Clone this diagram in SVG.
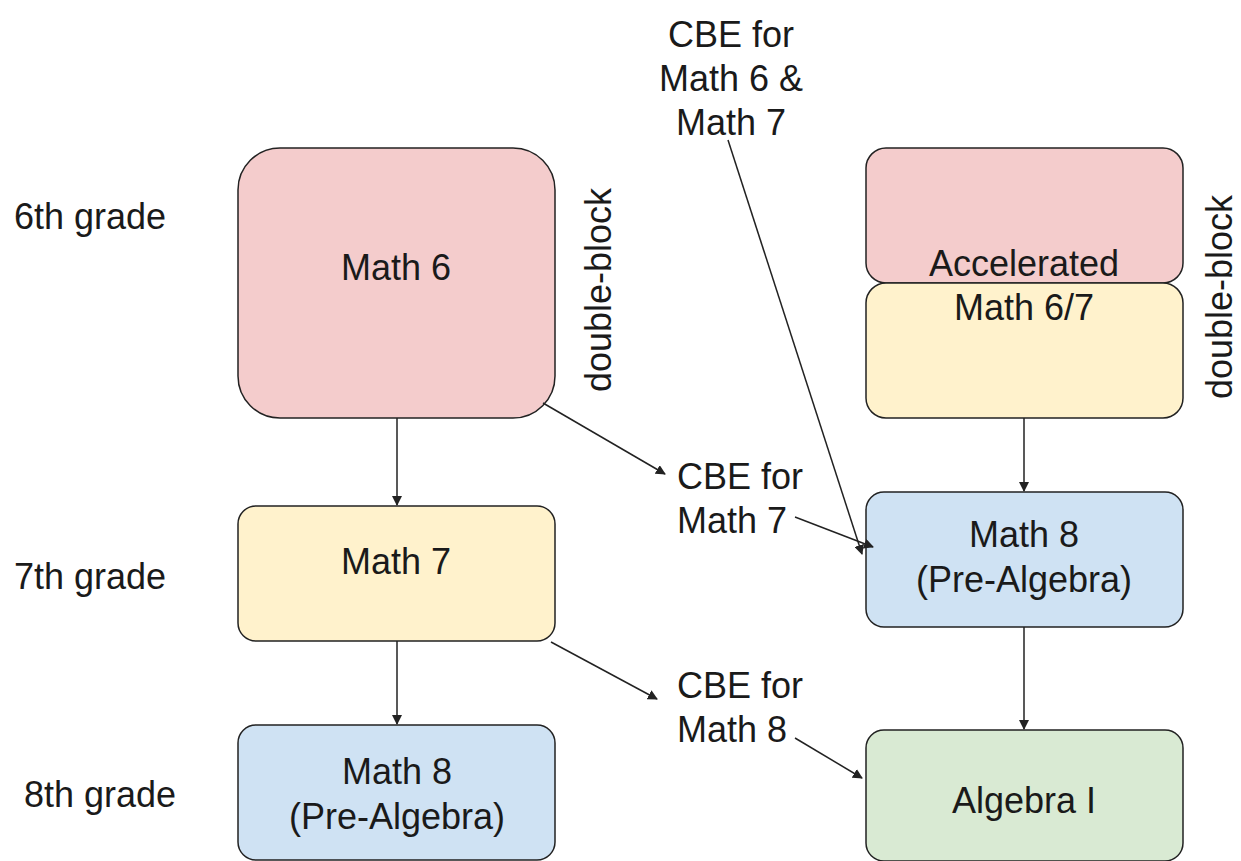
<svg xmlns="http://www.w3.org/2000/svg" width="1241" height="861" viewBox="0 0 1241 861">
<style>
text{font-family:"Liberation Sans",Arial,sans-serif;font-size:36px;fill:#1a1a1a}
.c{text-anchor:middle}
.box{stroke:#222;stroke-width:1.5}
.pink{fill:#f4cccc}.yel{fill:#fff2cc}.blue{fill:#cfe2f3}.green{fill:#d9ead3}
.ln{stroke:#222;stroke-width:1.5;fill:none;marker-end:url(#ah)}
</style>
<defs>
<marker id="ah" markerWidth="10" markerHeight="10" refX="9" refY="5" orient="auto" markerUnits="userSpaceOnUse"><path d="M0,0 L10,5 L0,10 Z" fill="#222"/></marker>
</defs>
<rect width="1241" height="861" fill="#fff"/>
<g id="labels">
<text x="14" y="229">6th grade</text>
<text x="14" y="589">7th grade</text>
<text x="24" y="807">8th grade</text>
<text class="c" transform="translate(611,290) rotate(-90)">double-block</text>
<text class="c" transform="translate(1232,297) rotate(-90)">double-block</text>
</g>
<g id="math6"><rect class="box pink" x="238" y="148" width="317" height="270" rx="42"/><text class="c" x="396" y="280">Math 6</text></g>
<g id="math7"><rect class="box yel" x="238" y="506" width="317" height="135" rx="18"/><text class="c" x="396" y="574">Math 7</text></g>
<g id="math8left"><rect class="box blue" x="238" y="725" width="317" height="135" rx="18"/><text class="c" x="397" y="784">Math 8</text><text class="c" x="397" y="829">(Pre-Algebra)</text></g>
<g id="accel-top"><rect class="box pink" x="866" y="148" width="317" height="135" rx="20"/></g>
<g id="accel-bottom"><rect class="box yel" x="866" y="283" width="317" height="135" rx="20"/><text class="c" x="1024" y="276">Accelerated</text><text class="c" x="1024" y="320">Math 6/7</text></g>
<g id="math8right"><rect class="box blue" x="866" y="492" width="317" height="135" rx="18"/><text class="c" x="1024" y="547">Math 8</text><text class="c" x="1024" y="592">(Pre-Algebra)</text></g>
<g id="algebra"><rect class="box green" x="866" y="730" width="317" height="131" rx="18"/><text class="c" x="1024" y="813">Algebra I</text></g>
<g id="cbe1"><text class="c" x="731" y="47">CBE for</text><text class="c" x="731" y="91">Math 6 &amp;</text><text class="c" x="731" y="135">Math 7</text></g>
<g id="cbe2"><text x="677" y="489">CBE for</text><text x="677" y="533">Math 7</text></g>
<g id="cbe3"><text x="677" y="698">CBE for</text><text x="677" y="742">Math 8</text></g>
<g id="connectors">
<line class="ln" x1="397" y1="418" x2="397" y2="505"/>
<line class="ln" x1="397" y1="641" x2="397" y2="724"/>
<line class="ln" x1="1024" y1="418" x2="1024" y2="491"/>
<line class="ln" x1="1024" y1="627" x2="1024" y2="729"/>
<line class="ln" x1="543" y1="403" x2="665" y2="474"/>
<line class="ln" x1="795" y1="517" x2="873" y2="547"/>
<line class="ln" x1="728" y1="140" x2="862" y2="554"/>
<line class="ln" x1="551" y1="642" x2="657" y2="699"/>
<line class="ln" x1="795" y1="738" x2="862" y2="778"/>
</g>
</svg>
